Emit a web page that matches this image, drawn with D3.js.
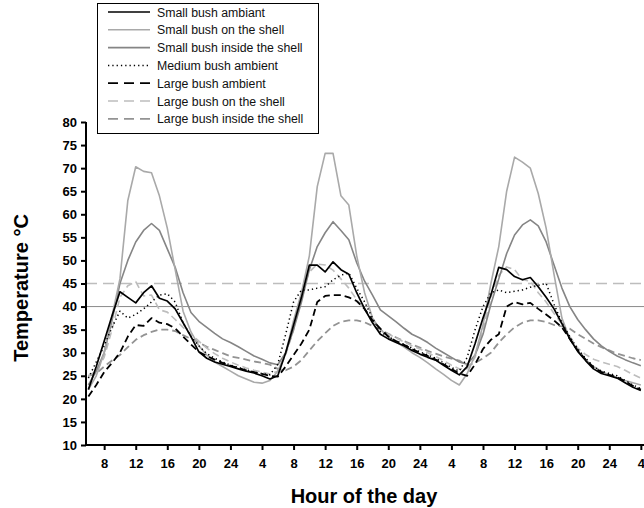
<!DOCTYPE html>
<html>
<head>
<meta charset="utf-8">
<script src="https://cdn.jsdelivr.net/npm/d3@7"></script>
<style>
  body { margin: 0; background: #fff; }
  text { font-family: "Liberation Sans", Arial, sans-serif; }
</style>
</head>
<body>
<svg id="chart" width="644" height="508"></svg>
<script>
// hours since midnight of the first day (labels are shown modulo 24)
var hours = [
  6, 7, 8, 9, 10, 11, 12, 13, 14, 15,
  16, 17, 18, 19, 20, 21, 22, 23, 24, 25,
  26, 27, 28, 29, 30, 31, 32, 33, 34, 35,
  36, 37, 38, 39, 40, 41, 42, 43, 44, 45,
  46, 47, 48, 49, 50, 51, 52, 53, 54, 55,
  56, 57, 58, 59, 60, 61, 62, 63, 64, 65,
  66, 67, 68, 69, 70, 71, 72, 73, 74, 75,
  76
];

var smallAmbiant = [
  22, 27, 32.5, 38, 43.2, 42, 40.8, 43, 44.5, 41.8,
  41.2, 39.5, 36.5, 33.5, 30.2, 28.8, 28, 27.5, 27, 26.5,
  26, 25.6, 25, 24.3, 25, 30, 36, 42, 49, 49,
  47.5, 49.7, 48, 47, 43, 39.5, 36.5, 34, 33, 32.2,
  31.5, 30.5, 29.7, 29, 28.4, 27.3, 26.2, 25.2, 27, 32,
  37.5, 42.5, 48.5, 48, 46.5, 45.8, 46.3, 44.3, 42, 39.5,
  36.3, 33, 30.3, 28.3, 26.5, 25.5, 25, 24.5, 23.5, 22.5,
  21.8
];
var smallOnShell = [
  22, 25, 30, 38, 46, 63, 70.3, 69.3, 69, 64,
  57, 48, 39, 34.5, 31.5, 29.5, 28, 27, 26, 25,
  24.3, 23.6, 23.4, 24, 26, 30, 37, 43, 51, 66,
  73.2, 73.2, 64, 62, 51, 43, 37.5, 35, 33.5, 32.3,
  31.2, 30, 29, 27.8, 26.5, 25.3, 24, 23, 25.5, 29.5,
  36, 45, 53, 65, 72.4, 71.3, 70, 64.5, 57, 47,
  37.5, 33, 30.5, 28.5, 27, 26, 25.2, 24.6, 24, 23.5,
  23
];
var smallInShell = [
  23, 26, 30, 37, 45, 50, 54, 56.5, 58, 56.5,
  52.5, 48.5, 43, 38.7, 36.8, 35.5, 34.2, 33, 32.2, 31.3,
  30.3, 29.3, 28.6, 27.8, 27.4, 30, 35, 41, 48, 53,
  56, 58.4, 56.5, 54.5, 49.5, 45.5, 42.5, 39.3, 38, 36.7,
  35.3, 34, 33.2, 32.2, 31, 30, 29, 28, 27.5, 29.5,
  34, 40.5, 46, 51.5, 55.5, 57.7, 58.8, 57.5, 54, 49,
  44, 40, 37.2, 35, 33, 31.5, 30.3, 29.3, 28.5, 27.8,
  27.2
];
var mediumAmbiant = [
  24.5, 28, 31.5, 35.5, 39, 37.5, 38.3, 39.5, 41, 42.5,
  42.8, 41, 36.5, 33.5, 31.5, 29.8, 28.8, 28, 27.3, 26.8,
  26.3, 25.8, 25.5, 25.2, 27.5, 34, 41, 43.6, 43.6, 44,
  44.3, 45.8, 46.8, 47.3, 44, 41, 37.5, 34.5, 33.5, 32.5,
  31.8, 31, 30.2, 29.5, 28.8, 27.8, 26.8, 26, 29, 35,
  40, 43, 43.6, 43, 43.3, 43.6, 44.2, 44.6, 45, 40.5,
  36.5, 33.5, 30.8, 28.8, 27, 26, 25.5, 25, 24, 23,
  22.2
];
var largeAmbiant = [
  20.5, 23, 25.8, 27.8, 30, 33.5, 36, 35.8, 37.5, 36.5,
  36.2, 35.3, 33.5, 31.8, 30.2, 29.3, 28.5, 27.8, 27.2, 26.7,
  26.2, 25.8, 25.4, 25, 24.8, 27, 29.5, 32, 35, 41,
  42.3, 42.5, 42.5, 42, 41.2, 39.5, 37, 35.2, 33.5, 32.5,
  31.7, 30.8, 30, 29.3, 28.5, 27.5, 26.5, 25.5, 25, 27.5,
  30.8, 32.8, 34, 40, 41, 40.5, 40.8, 39.5, 38.3, 37,
  35.5, 33, 30.5, 28.5, 26.8, 25.8, 25.2, 24.7, 23.8, 22.8,
  22
];
var largeOnShell = [
  25, 26, 29, 35, 42, 44.5, 45.4, 42.3, 42.5, 39.3,
  38.8, 37.2, 35.5, 34, 32.5, 31, 29.8, 28.8, 28, 27.3,
  26.7, 26.2, 25.8, 25.4, 26, 29.5, 35, 43, 47.5, 49.2,
  49, 47.9, 46, 44, 41.5, 39.3, 37, 35, 34, 33.2,
  32.3, 31.5, 30.8, 30, 29.2, 28.3, 27.3, 26.5, 26.5, 29,
  35, 42, 46.8, 48.6, 48, 45.8, 45.5, 43, 41, 38.5,
  36.3, 33.5, 31, 29.6, 28.6, 28, 27.5, 27, 26.2, 25.3,
  24.5
];
var largeInShell = [
  25, 25.5, 27, 28.3, 29.5, 31.2, 32.8, 33.8, 34.5, 35,
  35, 34.7, 33.8, 33, 32.2, 31.3, 30.6, 29.9, 29.2, 28.9,
  28.5, 28.1, 27.8, 27.4, 26.5, 26.2, 27, 28.4, 30.5, 32.5,
  34.2, 35.8, 36.7, 37, 37, 36.6, 35.8, 35, 34.1, 33.3,
  32.5, 31.8, 31.1, 30.4, 29.8, 29.2, 28.7, 28.3, 27.2, 27.8,
  28.8, 30, 32.2, 34, 35.5, 36.5, 37, 37, 36.7, 36,
  35.7, 35.2, 34, 33, 32, 31.2, 30.5, 29.8, 29.3, 28.8,
  28.4
];

var seriesNames = [
  "Small bush ambiant",
  "Small bush on the shell",
  "Small bush inside the shell",
  "Medium bush ambient",
  "Large bush ambient",
  "Large bush on the shell",
  "Large bush inside the shell"
];
var seriesValues = [smallAmbiant, smallOnShell, smallInShell, mediumAmbiant,
                    largeAmbiant, largeOnShell, largeInShell];

var xTicks = [8, 12, 16, 20, 24, 28, 32, 36, 40, 44, 48, 52, 56, 60, 64, 68, 72, 76];
var yTicks = [10, 15, 20, 25, 30, 35, 40, 45, 50, 55, 60, 65, 70, 75, 80];

// line look for each series (same order as seriesNames)
var looks = [
  { color: "#000", width: 1.7, dash: null },
  { color: "#a9a9a9", width: 1.6, dash: null },
  { color: "#858585", width: 1.6, dash: null },
  { color: "#000", width: 1.5, dash: "1.3,3" },
  { color: "#000", width: 1.8, dash: "7,4" },
  { color: "#bdbdbd", width: 1.6, dash: "7,4" },
  { color: "#939393", width: 1.8, dash: "7,4" }
];

var svg = d3.select("#chart");

var x = d3.scaleLinear().domain([5.7, 76.4]).range([86, 644]);
var y = d3.scaleLinear().domain([10, 80]).range([445, 122]);

// reference lines at 45 and 40 degrees
svg.append("line")
  .attr("x1", x(5.7)).attr("x2", 644)
  .attr("y1", y(45)).attr("y2", y(45))
  .attr("stroke", "#bdbdbd").attr("stroke-width", 1.3)
  .attr("stroke-dasharray", "11,6");
svg.append("line")
  .attr("x1", x(5.7)).attr("x2", 644)
  .attr("y1", y(40)).attr("y2", y(40))
  .attr("stroke", "#8a8a8a").attr("stroke-width", 1);

var line = d3.line()
  .x(function(d) { return x(d[0]); })
  .y(function(d) { return y(d[1]); });

var drawOrder = [6, 5, 2, 1, 4, 3, 0];
drawOrder.forEach(function(i) {
  var pts = hours.map(function(h, k) { return [h, seriesValues[i][k]]; });
  var path = svg.append("path")
    .attr("d", line(pts))
    .attr("fill", "none")
    .attr("stroke", looks[i].color)
    .attr("stroke-width", looks[i].width)
    .attr("stroke-linejoin", "round");
  if (looks[i].dash) path.attr("stroke-dasharray", looks[i].dash);
});

// axes
var xAxis = d3.axisBottom(x)
  .tickValues(xTicks)
  .tickSize(5)
  .tickPadding(9)
  .tickFormat(function(d) { return d % 24 === 0 ? 24 : d % 24; });
var gx = svg.append("g").attr("transform", "translate(0," + y(10) + ")").call(xAxis);
gx.select(".domain").attr("d", "M" + x(5.7) + ",0H644").attr("stroke-width", 2);

var yAxis = d3.axisLeft(y)
  .tickValues(yTicks)
  .tickSize(5)
  .tickPadding(4);
var gy = svg.append("g").attr("transform", "translate(" + x(5.7) + ",0)").call(yAxis);
gy.select(".domain").attr("d", "M0," + y(80) + "V" + y(10)).attr("stroke-width", 2);

svg.selectAll(".tick line").attr("stroke-width", 2);
svg.selectAll(".tick text")
  .attr("font-family", "'Liberation Sans', Arial, sans-serif")
  .attr("font-size", 13)
  .attr("font-weight", "bold")
  .attr("fill", "#000");

// axis titles
svg.append("text")
  .attr("x", 364).attr("y", 503)
  .attr("text-anchor", "middle")
  .attr("font-size", 20).attr("font-weight", "bold")
  .text("Hour of the day");
svg.append("text")
  .attr("transform", "translate(28,288) rotate(-90)")
  .attr("text-anchor", "middle")
  .attr("font-size", 20).attr("font-weight", "bold")
  .text("Temperature °C");

// legend
var legend = svg.append("g");
legend.append("rect")
  .attr("x", 97.5).attr("y", 3.5).attr("width", 221).attr("height", 130)
  .attr("fill", "#fff").attr("stroke", "#000").attr("stroke-width", 1);
seriesNames.forEach(function(name, i) {
  var ly = 12 + i * 17.8;
  var l = legend.append("line")
    .attr("x1", 108).attr("x2", 150)
    .attr("y1", ly).attr("y2", ly)
    .attr("stroke", looks[i].color)
    .attr("stroke-width", looks[i].width);
  if (looks[i].dash) l.attr("stroke-dasharray", i === 3 ? "1.3,3" : "10,6");
  legend.append("text")
    .attr("x", 157).attr("y", ly + 4.5)
    .attr("font-size", 12.3)
    .attr("fill", "#111")
    .text(name);
});
</script>
</body>
</html>
